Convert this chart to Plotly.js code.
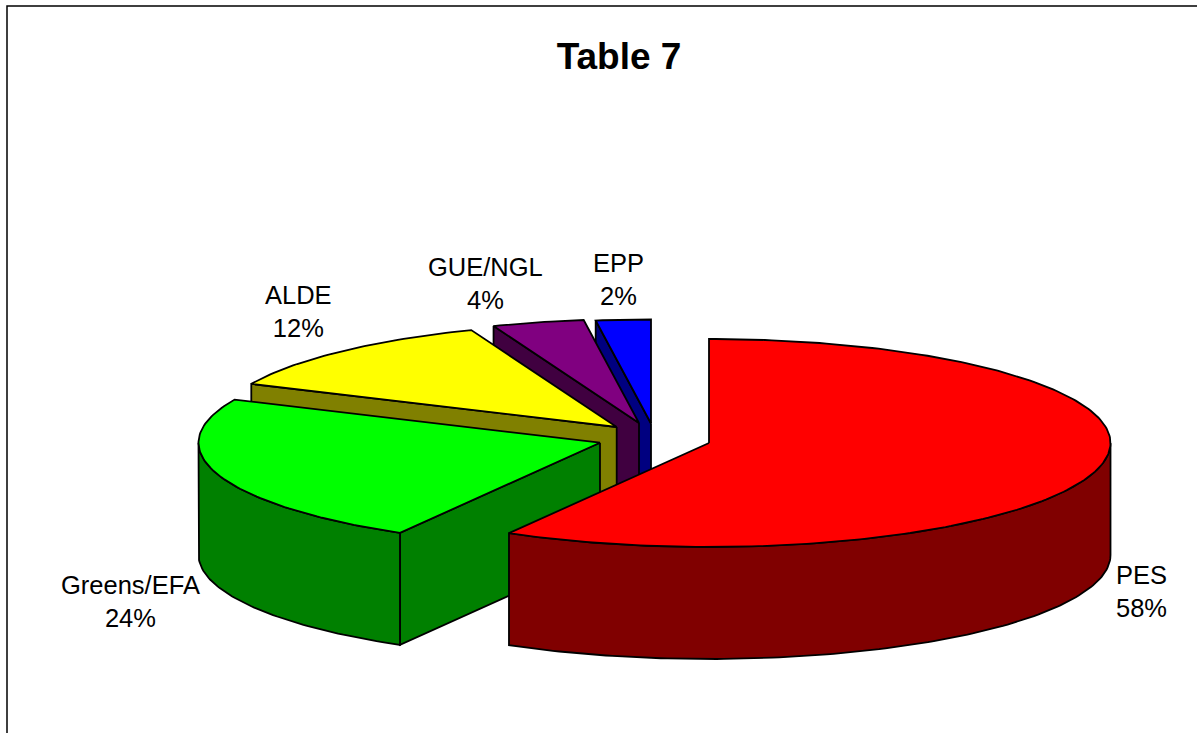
<!DOCTYPE html>
<html>
<head>
<meta charset="utf-8">
<script src="https://cdn.plot.ly/plotly-3.0.1.min.js"></script>
<style>html,body{margin:0;padding:0;background:#fff;overflow:hidden}#chart{width:1197px;height:733px}</style>
</head>
<body>
<div id="chart"></div>
<script>
// Data
var groups = ["PES", "Greens/EFA", "ALDE", "GUE/NGL", "EPP"];
var shares = [58.3, 23.5, 12.3, 3.7, 2.2];
var percentLabels = ["58%", "24%", "12%", "4%", "2%"];
var topColors = ["#FF0000", "#00FF00", "#FFFF00", "#800080", "#0000FF"];
var wallColors = ["#800000", "#008000", "#808000", "#400040", "#000080"];

// Oblique-pie projection, in chart units
var radiusX = 401.5, radiusY = 104, depth = 112;
var apexX = [709, 600, 616.7, 639, 651];
var apexY = [443, 442.7, 427, 423, 423.5];
var labelX = [1141, 130, 298, 485, 618];
var labelY = [591, 601, 311, 283, 279];

function rim(i, deg, drop) {
  var r = deg * Math.PI / 180;
  return [apexX[i] + radiusX * Math.sin(r), apexY[i] - radiusY * Math.cos(r) + drop];
}
function arc(i, a, b, drop) {
  var pts = [], n = Math.max(2, Math.ceil(Math.abs(b - a)));
  for (var k = 0; k <= n; k++) pts.push(rim(i, a + (b - a) * k / n, drop));
  return pts;
}
function poly(pts, fill) {
  var p = pts.concat([pts[0]]);
  return {
    type: "scatter", mode: "lines", fill: "toself", fillcolor: fill,
    x: p.map(function (q) { return q[0]; }),
    y: p.map(function (q) { return q[1]; }),
    line: { color: "#000000", width: 1.8 },
    hoverinfo: "skip", showlegend: false
  };
}

var starts = [], cum = 0;
shares.forEach(function (s) { starts.push(cum * 3.6); cum += s; });

var traces = [];
for (var i = shares.length - 1; i >= 0; i--) {
  var a1 = starts[i], a2 = starts[i] + shares[i] * 3.6;
  // radial face on the slice's leading edge
  if (a1 > 180 && a1 < 360) {
    var edge = rim(i, a1, 0), edgeLow = rim(i, a1, depth);
    traces.push(poly([[apexX[i], apexY[i]], edge, edgeLow, [apexX[i], apexY[i] + depth]], wallColors[i]));
  }
  // curved outer wall: the front half of the rim only
  var w1 = Math.max(a1, 90), w2 = Math.min(a2, 270);
  if (w2 > w1) {
    traces.push(poly(arc(i, w1, w2, 0).concat(arc(i, w2, w1, depth)), wallColors[i]));
  }
  // top face
  traces.push(poly([[apexX[i], apexY[i]]].concat(arc(i, a1, a2, 0)), topColors[i]));
}

var annotations = groups.map(function (g, i) {
  return {
    x: labelX[i], y: labelY[i], xref: "x", yref: "y",
    text: g + "<br>" + percentLabels[i], showarrow: false, align: "center",
    xanchor: "center", yanchor: "middle",
    font: { family: "Liberation Sans, Arial, sans-serif", size: 25.5, color: "#000000" }
  };
});

var layout = {
  width: 1197, height: 733,
  margin: { l: 0, r: 0, t: 0, b: 0 },
  paper_bgcolor: "#FFFFFF", plot_bgcolor: "#FFFFFF",
  showlegend: false,
  title: {
    text: "<b>Table 7</b>", x: 619 / 1197, xanchor: "center", y: 1 - 56 / 733, yanchor: "middle",
    font: { family: "Liberation Sans, Arial, sans-serif", size: 37, color: "#000000" }
  },
  xaxis: { range: [0, 1197], visible: false, fixedrange: true },
  yaxis: { range: [733, 0], visible: false, fixedrange: true },
  annotations: annotations,
  shapes: [{
    type: "rect", xref: "x", yref: "y", x0: 7, y0: 6, x1: 1210, y1: 745,
    line: { color: "#000000", width: 1.5 }, fillcolor: "rgba(0,0,0,0)", layer: "below"
  }]
};

Plotly.newPlot("chart", traces, layout, { displayModeBar: false, staticPlot: true });
</script>
</body>
</html>
